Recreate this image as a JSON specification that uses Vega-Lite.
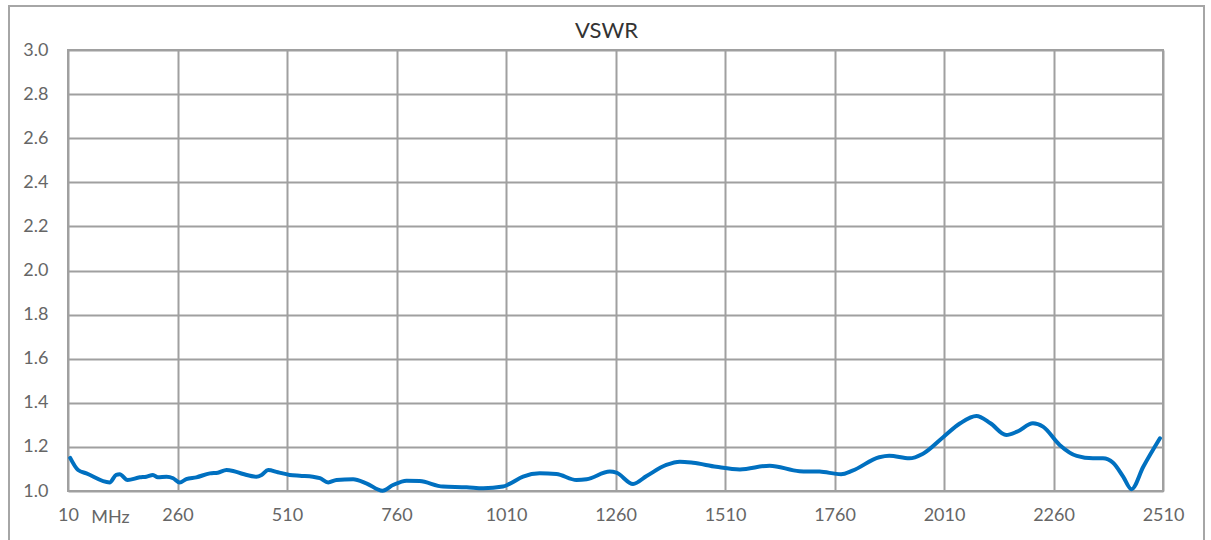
{
  "$schema": "https://vega.github.io/schema/vega-lite/v6.json",
  "width": 1095,
  "height": 441,
  "autosize": {"type": "none"},
  "padding": {"left": 68, "top": 50, "right": 48, "bottom": 49},
  "background": "white",
  "title": {"text": "VSWR", "font": "Lato", "fontSize": 22, "fontWeight": "normal", "color": "#333333", "offset": 12, "anchor": "middle", "frame": "group", "baseline": "bottom", "dy": 72, "dx": -9},
  "config": {
    "view": {"stroke": "#a0a0a0", "strokeWidth": 2},
    "axis": {"grid": true, "labelFont": "Lato", "labelFontSize": 18, "labelColor": "#666666", "gridColor": "#a0a0a0", "gridWidth": 2, "gridOpacity": 1, "domain": false, "ticks": false, "labelFlush": false}
  },
  "data": {"values": [
    {"f": 15, "v": 1.150}, {"f": 33, "v": 1.095}, {"f": 52, "v": 1.080}, {"f": 105, "v": 1.039},
    {"f": 120, "v": 1.073}, {"f": 128, "v": 1.076}, {"f": 146, "v": 1.050}, {"f": 174, "v": 1.062},
    {"f": 189, "v": 1.065}, {"f": 204, "v": 1.073}, {"f": 215, "v": 1.062}, {"f": 235, "v": 1.065},
    {"f": 250, "v": 1.058}, {"f": 265, "v": 1.038}, {"f": 280, "v": 1.054}, {"f": 303, "v": 1.062},
    {"f": 334, "v": 1.080}, {"f": 352, "v": 1.083}, {"f": 372, "v": 1.095}, {"f": 387, "v": 1.091},
    {"f": 410, "v": 1.077}, {"f": 440, "v": 1.065}, {"f": 452, "v": 1.073}, {"f": 467, "v": 1.095},
    {"f": 489, "v": 1.085}, {"f": 516, "v": 1.073}, {"f": 539, "v": 1.069}, {"f": 569, "v": 1.065},
    {"f": 585, "v": 1.058}, {"f": 604, "v": 1.039}, {"f": 623, "v": 1.050}, {"f": 661, "v": 1.053},
    {"f": 691, "v": 1.035}, {"f": 728, "v": 1.001}, {"f": 752, "v": 1.027}, {"f": 783, "v": 1.047},
    {"f": 813, "v": 1.045}, {"f": 866, "v": 1.020}, {"f": 920, "v": 1.017}, {"f": 958, "v": 1.012},
    {"f": 1003, "v": 1.020}, {"f": 1018, "v": 1.032}, {"f": 1049, "v": 1.065}, {"f": 1087, "v": 1.080},
    {"f": 1125, "v": 1.077}, {"f": 1171, "v": 1.050}, {"f": 1194, "v": 1.053}, {"f": 1247, "v": 1.088},
    {"f": 1262, "v": 1.083}, {"f": 1300, "v": 1.032}, {"f": 1331, "v": 1.068}, {"f": 1376, "v": 1.118},
    {"f": 1407, "v": 1.133}, {"f": 1437, "v": 1.128}, {"f": 1490, "v": 1.110}, {"f": 1544, "v": 1.098},
    {"f": 1612, "v": 1.115}, {"f": 1680, "v": 1.090}, {"f": 1726, "v": 1.088}, {"f": 1775, "v": 1.076},
    {"f": 1801, "v": 1.092}, {"f": 1862, "v": 1.153}, {"f": 1885, "v": 1.160}, {"f": 1931, "v": 1.148},
    {"f": 1961, "v": 1.168}, {"f": 2008, "v": 1.244}, {"f": 2047, "v": 1.307}, {"f": 2084, "v": 1.340},
    {"f": 2116, "v": 1.307}, {"f": 2152, "v": 1.254}, {"f": 2177, "v": 1.269}, {"f": 2213, "v": 1.307},
    {"f": 2236, "v": 1.292}, {"f": 2274, "v": 1.209}, {"f": 2313, "v": 1.159}, {"f": 2350, "v": 1.148},
    {"f": 2373, "v": 1.148}, {"f": 2396, "v": 1.128}, {"f": 2419, "v": 1.065}, {"f": 2438, "v": 1.008},
    {"f": 2465, "v": 1.110}, {"f": 2503, "v": 1.239}
  ]},
  "layer": [
    {
      "mark": {"type": "line", "color": "#0070C0", "strokeWidth": 4, "interpolate": "monotone", "strokeCap": "round", "strokeJoin": "round"},
      "encoding": {
        "x": {"field": "f", "type": "quantitative",
          "scale": {"domain": [10, 2510], "nice": false, "zero": false},
          "axis": {"grid": true, "values": [10, 260, 510, 760, 1010, 1260, 1510, 1760, 2010, 2260, 2510], "format": "d", "labelPadding": 15, "title": "MHz", "titleFont": "Lato", "titleFontSize": 18, "titleFontWeight": "normal", "titleColor": "#666666", "titleX": 42, "titleY": 26, "titleBaseline": "middle", "titleAlign": "center"}},
        "y": {"field": "v", "type": "quantitative",
          "scale": {"domain": [1, 3], "nice": false, "zero": false},
          "axis": {"grid": true, "values": [1.0, 1.2, 1.4, 1.6, 1.8, 2.0, 2.2, 2.4, 2.6, 2.8, 3.0], "format": ".1f", "labelPadding": 20, "title": null}}
      }
    },
    {
      "mark": {"type": "rect", "fill": null, "stroke": "#a6a6a6", "strokeWidth": 2, "clip": false},
      "encoding": {
        "x": {"datum": -124.7, "type": "quantitative"},
        "x2": {"datum": 2603.6},
        "y": {"datum": 3.1995, "type": "quantitative"},
        "y2": {"datum": 0.75}
      }
    }
  ]
}
